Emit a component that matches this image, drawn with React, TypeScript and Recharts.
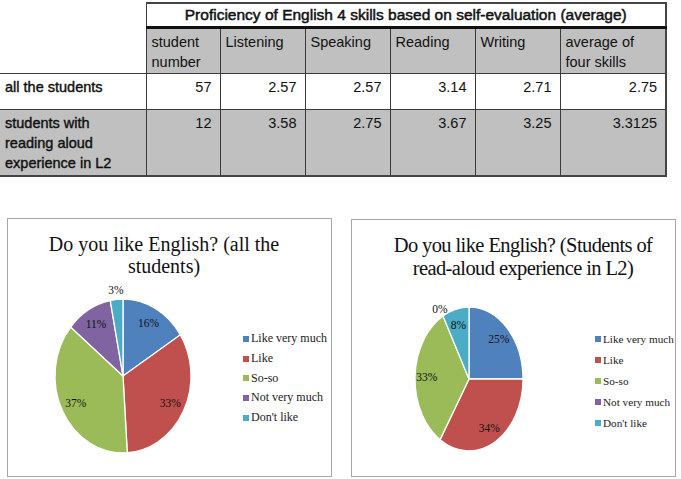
import React from "react";
import { PieChart, Pie, Cell, Legend } from "recharts";

// survey answers (legend order)
const ANSWERS = ["Like very much", "Like", "So-so", "Not very much", "Don't like"];
// percentages
const ALL_STUDENTS_PCT = [16, 33, 37, 11, 3];
const READ_ALOUD_PCT = [25, 34, 33, 0, 8];

const COLORS = ["#4F81BD", "#C0504D", "#9BBB59", "#8064A2", "#4BACC6"];

// table at the top
const TABLE_TITLE =
  "Proficiency of English 4 skills based on self-evaluation (average)";
const TABLE_COLUMNS = [
  "student\nnumber",
  "Listening",
  "Speaking",
  "Reading",
  "Writing",
  "average of\nfour skills",
];
const ROW_LABELS = [
  "all the students",
  "students with\nreading aloud\nexperience in L2",
];
const ALL_ROW = ["57", "2.57", "2.57", "3.14", "2.71", "2.75"];
const READ_ALOUD_ROW = ["12", "3.58", "2.75", "3.67", "3.25", "3.3125"];

const RADIAN = Math.PI / 180;
const SERIF = '"Liberation Serif", "Times New Roman", serif';
const SANS = '"Liberation Sans", Arial, sans-serif';
const GRAY = "#c0c0c0";
const LINE = "1px solid #3a3a3a";

// pie sectors drawn as ellipse slices (the original pies are a bit taller than wide)
const ellipseSector = (k: number) => (props: any) => {
  const { cx, cy, outerRadius, startAngle, endAngle, fill } = props;
  const span = Math.abs(endAngle - startAngle);
  if (span < 0.01) return <g />;
  const rx = outerRadius;
  const ry = outerRadius * k;
  const pt = (a: number) => [
    cx + rx * Math.cos(-a * RADIAN),
    cy + ry * Math.sin(-a * RADIAN),
  ];
  const [x1, y1] = pt(startAngle);
  const [x2, y2] = pt(endAngle);
  const large = span > 180 ? 1 : 0;
  const sweep = startAngle > endAngle ? 1 : 0;
  const d = `M${cx},${cy} L${x1},${y1} A${rx},${ry} 0 ${large} ${sweep} ${x2},${y2} Z`;
  return <path d={d} fill={fill} stroke="#ffffff" strokeWidth={1.3} />;
};

const percentLabel = (k: number) => (props: any) => {
  const { cx, cy, midAngle, outerRadius, percent } = props;
  const f = percent < 0.05 ? 1.12 : 0.78;
  const x = cx + outerRadius * f * Math.cos(-midAngle * RADIAN);
  const y = cy + outerRadius * k * f * Math.sin(-midAngle * RADIAN);
  return (
    <text
      x={x}
      y={y}
      fill="#111"
      textAnchor="middle"
      dominantBaseline="central"
      fontFamily={SERIF}
      fontSize={11.5}
    >
      {`${Math.round(percent * 100)}%`}
    </text>
  );
};

const legendContent = (rowHeight: number, fontSize: number) => (props: any) => {
  const items = [...(props.payload || [])].sort(
    (a: any, b: any) => ANSWERS.indexOf(a.value) - ANSWERS.indexOf(b.value)
  );
  return (
    <div>
      {items.map((entry: any, i: number) => (
        <div
          key={`leg-${i}`}
          style={{
            display: "flex",
            alignItems: "center",
            height: rowHeight,
            fontFamily: SERIF,
            fontSize,
            color: "#1a1a1a",
            whiteSpace: "nowrap",
          }}
        >
          <span
            style={{
              display: "inline-block",
              width: 6,
              height: 6,
              marginRight: 2,
              background: entry.color || COLORS[ANSWERS.indexOf(entry.value)],
            }}
          />
          {entry.value}
        </div>
      ))}
    </div>
  );
};

interface PiePanelProps {
  left: number;
  top: number;
  width: number;
  height: number;
  title: string[];
  titleSize: number;
  titleSpacing: number;
  titleLine: number;
  titleLeft: number;
  titleWidth: number;
  values: number[];
  cx: number;
  cy: number;
  radius: number;
  k: number;
  legendLeft: number;
  legendTop: number;
  legendRow: number;
  legendFont: number;
}

function PiePanel(p: PiePanelProps) {
  const data = ANSWERS.map((name, i) => ({ name, value: p.values[i] }));
  return (
    <div
      style={{
        position: "absolute",
        left: p.left,
        top: p.top,
        width: p.width,
        height: p.height,
        border: "1px solid #a6a6a6",
        boxSizing: "border-box",
        background: "#fff",
      }}
    >
      <div
        style={{
          position: "absolute",
          left: p.titleLeft,
          top: 14,
          width: p.titleWidth,
          textAlign: "center",
          fontFamily: SERIF,
          fontSize: p.titleSize,
          lineHeight: `${p.titleLine}px`,
          letterSpacing: p.titleSpacing,
          color: "#111",
          whiteSpace: "nowrap",
        }}
      >
        {p.title.map((t, i) => (
          <div key={i}>{t}</div>
        ))}
      </div>
      <PieChart
        width={p.width - 2}
        height={p.height - 2}
        margin={{ top: 0, right: 0, bottom: 0, left: 0 }}
      >
        <Pie
          data={data}
          dataKey="value"
          nameKey="name"
          cx={p.cx}
          cy={p.cy}
          outerRadius={p.radius}
          startAngle={90}
          endAngle={-270}
          stroke="#fff"
          labelLine={false}
          label={percentLabel(p.k)}
          shape={ellipseSector(p.k)}
          inactiveShape={ellipseSector(p.k)}
          activeShape={ellipseSector(p.k)}
          isAnimationActive={false}
        >
          {data.map((entry, index) => (
            <Cell key={`cell-${index}`} fill={COLORS[index % COLORS.length]} />
          ))}
        </Pie>
        <Legend
          layout="vertical"
          itemSorter={null}
          content={legendContent(p.legendRow, p.legendFont)}
          wrapperStyle={{
            left: p.legendLeft,
            top: p.legendTop,
            width: 100,
          }}
        />
      </PieChart>
    </div>
  );
}

const cell = (extra: React.CSSProperties): React.CSSProperties => ({
  borderLeft: LINE,
  borderRight: LINE,
  borderTop: LINE,
  borderBottom: LINE,
  padding: "3px 6px 0 5px",
  verticalAlign: "top",
  whiteSpace: "pre-line",
  lineHeight: "20px",
  ...extra,
});

function ScoreTable() {
  return (
    <table
      style={{
        position: "absolute",
        left: 0,
        top: 2,
        width: 666,
        borderCollapse: "collapse",
        tableLayout: "fixed",
        fontFamily: SANS,
        fontSize: 14.5,
        color: "#111",
      }}
    >
      <colgroup>
        <col style={{ width: 146 }} />
        <col style={{ width: 74 }} />
        <col style={{ width: 85 }} />
        <col style={{ width: 85 }} />
        <col style={{ width: 85 }} />
        <col style={{ width: 85 }} />
        <col style={{ width: 106 }} />
      </colgroup>
      <tbody>
        <tr style={{ height: 24 }}>
          <td
            rowSpan={2}
            style={cell({ borderLeft: "none", borderTop: "none" })}
          />
          <td
            colSpan={6}
            style={cell({
              textAlign: "center",
              verticalAlign: "middle",
              padding: 0,
              borderBottom: "3px solid #111",
              borderTop: "2px solid #444",
              borderRight: "2px solid #444",
              fontSize: 15.5,
              WebkitTextStroke: "0.5px #111",
            })}
          >
            {TABLE_TITLE}
          </td>
        </tr>
        <tr style={{ height: 46 }}>
          {TABLE_COLUMNS.map((c, i) => (
            <td
              key={c}
              style={cell({
                background: GRAY,
                borderRight: i === TABLE_COLUMNS.length - 1 ? "2px solid #444" : LINE,
              })}
            >
              {c}
            </td>
          ))}
        </tr>
        <tr style={{ height: 36 }}>
          <td style={cell({ borderLeft: "none", WebkitTextStroke: "0.4px #111" })}>
            {ROW_LABELS[0]}
          </td>
          {ALL_ROW.map((v, i) => (
            <td
              key={`a-${i}`}
              style={cell({
                textAlign: "right",
                paddingRight: 8,
                borderRight: i === ALL_ROW.length - 1 ? "2px solid #444" : LINE,
              })}
            >
              {v}
            </td>
          ))}
        </tr>
        <tr style={{ height: 67, background: GRAY }}>
          <td
            style={cell({
              borderLeft: "none",
              borderBottom: "2px solid #444",
              WebkitTextStroke: "0.4px #111",
            })}
          >
            {ROW_LABELS[1]}
          </td>
          {READ_ALOUD_ROW.map((v, i) => (
            <td
              key={`r-${i}`}
              style={cell({
                textAlign: "right",
                paddingRight: 8,
                borderBottom: "2px solid #444",
                borderRight:
                  i === READ_ALOUD_ROW.length - 1 ? "2px solid #444" : LINE,
              })}
            >
              {v}
            </td>
          ))}
        </tr>
      </tbody>
    </table>
  );
}

export default function App() {
  return (
    <div
      style={{
        position: "absolute",
        left: 0,
        top: 0,
        width: 681,
        height: 479,
        background: "#fff",
        overflow: "hidden",
      }}
    >
      <ScoreTable />
      <PiePanel
        left={7}
        top={218}
        width={325}
        height={259}
        title={["Do you like English? (all the", "students)"]}
        titleSize={20}
        titleSpacing={0}
        titleLine={22}
        titleLeft={0}
        titleWidth={312}
        values={ALL_STUDENTS_PCT}
        cx={115}
        cy={157}
        radius={68}
        k={1.13}
        legendLeft={235}
        legendTop={110}
        legendRow={19.7}
        legendFont={12}
      />
      <PiePanel
        left={351}
        top={219}
        width={325}
        height={258}
        title={["Do you like English? (Students of", "read-aloud experience in L2)"]}
        titleSize={20.5}
        titleSpacing={-0.6}
        titleLine={23}
        titleLeft={20}
        titleWidth={302}
        values={READ_ALOUD_PCT}
        cx={117}
        cy={159}
        radius={54}
        k={1.33}
        legendLeft={243}
        legendTop={108}
        legendRow={21}
        legendFont={11.2}
      />
    </div>
  );
}
